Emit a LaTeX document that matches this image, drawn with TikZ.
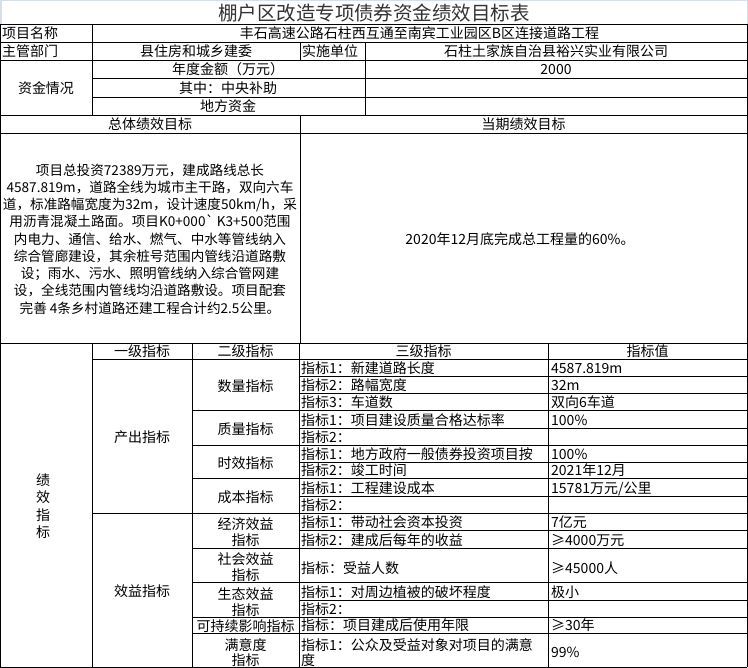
\documentclass[tikz,border=0pt]{standalone}
\usepackage{fontspec}
\setmainfont{Noto Sans CJK SC}
\newfontfamily\rawfont{Noto Sans CJK SC}
\definecolor{titleframe}{RGB}{214,222,234}
\begin{document}
\begin{tikzpicture}[x=1pt,y=-1pt,
  grid/.style={line width=0.9pt,black},
  txt/.style={inner sep=0pt,font=\fontsize{14}{17}\selectfont,text=black},
  lt/.style={txt,anchor=base west},
  ct/.style={txt,anchor=base},
]
\useasboundingbox (0,0) rectangle (748,668);
\fill[white] (0,0) rectangle (748,668);
% title frame
\draw[titleframe,line width=1.5pt] (0.75,24) -- (0.75,0.75) -- (747.25,0.75) -- (747.25,24);
\node[inner sep=0pt,font=\fontsize{19.5}{22}\selectfont,text=black!80] (title) at (374,13) {棚户区改造专项债券资金绩效目标表};

% horizontal lines
\draw[grid] (0,24) -- (747,24);
\draw[grid] (0,42) -- (747,42);
\draw[grid] (0,60) -- (747,60);
\draw[grid] (92,78) -- (747,78);
\draw[grid] (92,97) -- (747,97);
\draw[grid] (0,115) -- (747,115);
\draw[grid] (0,133) -- (747,133);
\draw[grid] (0,343) -- (747,343);
\draw[grid] (92,359) -- (747,359);
\foreach \yy in {376,393,428,462,496,530,600} \draw[grid] (299,\yy) -- (747,\yy);
\foreach \yy in {410,445,478,548,582,617,633} \draw[grid] (192,\yy) -- (747,\yy);
\draw[grid] (92,513) -- (747,513);
\draw[grid] (0,667) -- (747,667);
% vertical lines
\draw[grid] (0.5,24) -- (0.5,667);
\draw[grid] (747,24) -- (747,667);
\draw[grid] (92,24) -- (92,115);
\draw[grid] (300,42) -- (300,60);
\draw[grid] (365,42) -- (365,115);
\draw[grid] (300,115) -- (300,343);
\draw[grid] (92,343) -- (92,667);
\draw[grid] (192,343) -- (192,667);
\draw[grid] (299,343) -- (299,667);
\draw[grid] (548,343) -- (548,667);

% top section texts
\node[lt] (pname) at (2,39) {项目名称};
\node[ct] (pval) at (419.5,39) {丰石高速公路石柱西互通至南宾工业园区B区连接道路工程};
\node[lt] (dept) at (2,57) {主管部门};
\node[ct] (deptv) at (196,57) {县住房和城乡建委};
\node[lt] (impl) at (302,57) {实施单位};
\node[ct] (implv) at (556,57) {石柱土家族自治县裕兴实业有限公司};
\node[txt] (fund) at (46,88) {资金情况};
\node[ct] (amt) at (228,75) {年度金额（万元）};
\node[ct] (amtv) at (556,75) {2000};
\node[ct] (cent) at (228,94) {其中：中央补助};
\node[ct] (local) at (228,112) {地方资金};
\node[ct] (ovr) at (150,130) {总体绩效目标};
\node[ct] (cur) at (523.5,130) {当期绩效目标};
\node[txt,align=center,font=\fontsize{13.6}{17.25}\selectfont] (ovrv) at (150,239) {%
项目总投资72389万元，建成路线总长\\
4587.819m，道路全线为城市主干路，双向六车\\
道，标准路幅宽度为32m，设计速度50km/h，采\\
用沥青混凝土路面。项目K0+000{\rawfont`} K3+500范围\\
内电力、通信、给水、燃气、中水等管线纳入\\
综合管廊建设，其余桩号范围内管线沿道路敷\\
设；雨水、污水、照明管线纳入综合管网建\\
设，全线范围内管线均沿道路敷设。项目配套\\
完善 4条乡村道路还建工程合计约2.5公里。};
\node[txt] (curv) at (520,239) {2020年12月底完成总工程量的60\%。};

% bottom section
\node[txt,align=center,font=\fontsize{14}{17.5}\selectfont] (perf) at (43,506) {绩\\效\\指\\标};
\node[ct] (h1) at (142,356.5) {一级指标};
\node[ct] (h2) at (245.5,356.5) {二级指标};
\node[ct] (h3) at (423.5,356.5) {三级指标};
\node[ct] (h4) at (647.5,356.5) {指标值};
\node[txt] (out) at (142,437) {产出指标};
\node[txt] (ben) at (142,591) {效益指标};
\node[txt] (qty) at (245.5,386.5) {数量指标};
\node[txt] (qual) at (245.5,429.5) {质量指标};
\node[txt] (time) at (245.5,463.5) {时效指标};
\node[txt] (cost) at (245.5,497.5) {成本指标};
\node[ct] (eco1) at (245.5,530) {经济效益};
\node[ct] (eco2) at (245.5,546) {指标};
\node[ct] (soc1) at (245.5,565) {社会效益};
\node[ct] (soc2) at (245.5,580.5) {指标};
\node[ct] (env1) at (245.5,599.5) {生态效益};
\node[ct] (env2) at (245.5,615.5) {指标};
\node[ct] (sus) at (245.5,631) {可持续影响指标};
\node[ct] (sat1) at (245.5,650) {满意度};
\node[ct] (sat2) at (245.5,665.5) {指标};

\node[lt] (t1) at (301,373.5) {指标1：新建道路长度};
\node[lt] (v1) at (551,373.5) {4587.819m};
\node[lt] (t2) at (301,390.5) {指标2：路幅宽度};
\node[lt] (v2) at (551,390.5) {32m};
\node[lt] (t3) at (301,407.5) {指标3：车道数};
\node[lt] (v3) at (551,407.5) {双向6车道};
\node[lt] (t4) at (301,425.5) {指标1：项目建设质量合格达标率};
\node[lt] (v4) at (551,425.5) {100\%};
\node[lt] (t5) at (301,442.5) {指标2：};
\node[lt] (t6) at (301,459.5) {指标1：地方政府一般债券投资项目按};
\node[lt] (v6) at (551,459.5) {100\%};
\node[lt] (t7) at (301,475.5) {指标2：竣工时间};
\node[lt] (v7) at (551,475.5) {2021年12月};
\node[lt] (t8) at (301,493.5) {指标1：工程建设成本};
\node[lt] (v8) at (551,493.5) {15781万元/公里};
\node[lt] (t9) at (301,510.5) {指标2：};
\node[lt] (t10) at (301,527.5) {指标1：带动社会资本投资};
\node[lt] (v10) at (551,527.5) {7亿元};
\node[lt] (t11) at (301,545.5) {指标2：建成后每年的收益};
\node[lt] (v11) at (551,545.5) {≥4000万元};
\node[lt] (t12) at (301,573) {指标：受益人数};
\node[lt] (v12) at (551,573) {≥45000人};
\node[lt] (t13) at (301,597.5) {指标1：对周边植被的破坏程度};
\node[lt] (v13) at (551,597.5) {极小};
\node[lt] (t14) at (301,614.5) {指标2：};
\node[lt] (t15) at (301,630.5) {指标：项目建成后使用年限};
\node[lt] (v15) at (551,630.5) {≥30年};
\node[lt] (t16) at (301,650) {指标1：公众及受益对象对项目的满意};
\node[lt] (t16b) at (301,665.5) {度};
\node[lt] (v16) at (551,657) {99\%};
\end{tikzpicture}
\end{document}
